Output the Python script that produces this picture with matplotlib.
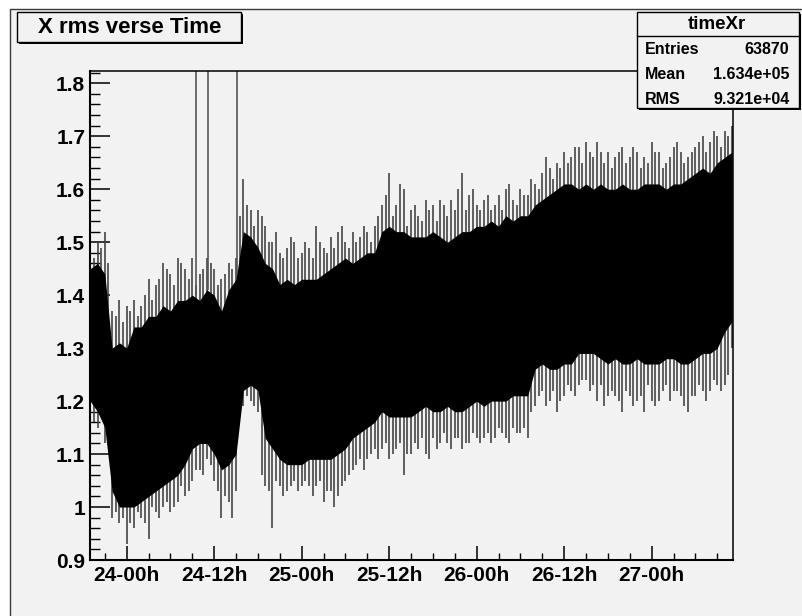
import numpy as np
import matplotlib
matplotlib.use("Agg")
import matplotlib.pyplot as plt
from matplotlib.patches import Rectangle
from matplotlib.ticker import MultipleLocator, FixedLocator, FixedFormatter

# ---------------- data (hours relative to 24-00h) ----------------
hours = list(range(-5, 84))
spike_hi = [1.49, 1.50, 1.52, 1.37, 1.39, 1.38, 1.39, 1.38, 1.43, 1.42,
            1.46, 1.44, 1.47, 1.45, 1.47, 1.44, 1.47, 1.45, 1.43, 1.46,
            1.47, 1.62, 1.56, 1.56, 1.53, 1.50, 1.48, 1.49, 1.50, 1.48,
            1.49, 1.53, 1.49, 1.51, 1.52, 1.50, 1.52, 1.51, 1.52, 1.53,
            1.57, 1.63, 1.57, 1.60, 1.56, 1.55, 1.58, 1.57, 1.58, 1.55,
            1.56, 1.63, 1.59, 1.57, 1.58, 1.56, 1.59, 1.60, 1.58, 1.60,
            1.59, 1.61, 1.63, 1.64, 1.65, 1.67, 1.66, 1.68, 1.69, 1.66,
            1.67, 1.67, 1.66, 1.68, 1.66, 1.67, 1.66, 1.69, 1.67, 1.65,
            1.68, 1.67, 1.66, 1.68, 1.70, 1.69, 1.70, 1.71, 1.72]
spike_lo = [1.17, 1.15, 1.12, 0.98, 0.97, 0.93, 0.96, 0.98, 0.94, 0.99,
            1.00, 0.99, 1.01, 1.02, 1.05, 1.07, 1.09, 1.05, 0.98, 1.01,
            1.03, 1.19, 1.20, 1.18, 1.04, 0.96, 1.04, 1.03, 1.05, 1.04,
            1.04, 1.04, 1.01, 1.03, 1.02, 1.05, 1.07, 1.09, 1.09, 1.11,
            1.11, 1.09, 1.11, 1.06, 1.10, 1.11, 1.10, 1.13, 1.12, 1.12,
            1.13, 1.11, 1.12, 1.13, 1.13, 1.12, 1.15, 1.13, 1.15, 1.14,
            1.13, 1.19, 1.22, 1.20, 1.18, 1.21, 1.22, 1.23, 1.24, 1.23,
            1.23, 1.21, 1.21, 1.18, 1.21, 1.20, 1.18, 1.20, 1.20, 1.23,
            1.22, 1.21, 1.18, 1.21, 1.22, 1.22, 1.23, 1.23, 1.30]
core_top = [1.45, 1.46, 1.44, 1.30, 1.31, 1.30, 1.34, 1.34, 1.36, 1.36,
            1.38, 1.37, 1.39, 1.39, 1.40, 1.39, 1.41, 1.40, 1.37, 1.41,
            1.43, 1.52, 1.51, 1.49, 1.46, 1.45, 1.42, 1.43, 1.42, 1.43,
            1.43, 1.43, 1.44, 1.45, 1.46, 1.47, 1.46, 1.47, 1.48, 1.48,
            1.52, 1.53, 1.52, 1.52, 1.51, 1.51, 1.51, 1.52, 1.51, 1.50,
            1.51, 1.52, 1.52, 1.53, 1.53, 1.54, 1.53, 1.55, 1.54, 1.55,
            1.55, 1.57, 1.58, 1.59, 1.60, 1.61, 1.61, 1.60, 1.61, 1.60,
            1.61, 1.60, 1.60, 1.61, 1.60, 1.60, 1.61, 1.61, 1.61, 1.60,
            1.61, 1.61, 1.62, 1.63, 1.64, 1.63, 1.65, 1.66, 1.67]
core_bot = [1.20, 1.18, 1.15, 1.03, 1.00, 1.00, 1.00, 1.01, 1.02, 1.03,
            1.04, 1.05, 1.06, 1.08, 1.11, 1.12, 1.12, 1.10, 1.07, 1.08,
            1.10, 1.22, 1.23, 1.22, 1.13, 1.11, 1.09, 1.08, 1.08, 1.08,
            1.09, 1.09, 1.09, 1.09, 1.10, 1.11, 1.13, 1.14, 1.15, 1.16,
            1.18, 1.17, 1.17, 1.17, 1.17, 1.18, 1.19, 1.18, 1.18, 1.19,
            1.18, 1.18, 1.19, 1.20, 1.19, 1.20, 1.20, 1.20, 1.21, 1.21,
            1.21, 1.26, 1.27, 1.26, 1.26, 1.27, 1.27, 1.29, 1.29, 1.29,
            1.28, 1.27, 1.28, 1.27, 1.27, 1.28, 1.27, 1.27, 1.27, 1.28,
            1.28, 1.27, 1.27, 1.28, 1.29, 1.29, 1.30, 1.33, 1.35]

# spikes at the half hours in between
half_hours = [h + 0.5 for h in range(-5, 83)]
half_hi = [1.47, 1.49, 1.46, 1.36, 1.35, 1.37, 1.36, 1.40, 1.39, 1.43,
           1.45, 1.42, 1.46, 1.43, 1.42, 1.45, 1.46, 1.42, 1.44, 1.45,
           1.55, 1.57, 1.53, 1.55, 1.50, 1.52, 1.47, 1.51, 1.47, 1.50,
           1.47, 1.50, 1.48, 1.49, 1.53, 1.49, 1.50, 1.53, 1.50, 1.55,
           1.59, 1.55, 1.61, 1.53, 1.57, 1.54, 1.56, 1.54, 1.57, 1.58,
           1.60, 1.56, 1.60, 1.56, 1.59, 1.57, 1.56, 1.61, 1.57, 1.59,
           1.62, 1.60, 1.66, 1.62, 1.64, 1.65, 1.68, 1.65, 1.67, 1.69,
           1.65, 1.64, 1.67, 1.65, 1.68, 1.64, 1.65, 1.67, 1.64, 1.66,
           1.69, 1.65, 1.67, 1.69, 1.67, 1.71, 1.68, 1.70]
half_lo = [1.16, 1.18, 1.13, 0.99, 0.98, 0.97, 0.99, 0.97, 1.00, 0.98,
           1.01, 1.00, 1.04, 1.03, 1.07, 1.06, 1.08, 1.03, 1.02, 0.98,
           1.20, 1.21, 1.19, 1.06, 1.03, 1.05, 1.02, 1.04, 1.03, 1.05,
           1.02, 1.05, 1.03, 1.00, 1.04, 1.06, 1.08, 1.07, 1.10, 1.09,
           1.12, 1.10, 1.12, 1.10, 1.12, 1.13, 1.09, 1.11, 1.14, 1.11,
           1.13, 1.12, 1.14, 1.12, 1.14, 1.13, 1.14, 1.12, 1.14, 1.15,
           1.18, 1.21, 1.19, 1.22, 1.20, 1.23, 1.21, 1.24, 1.22, 1.20,
           1.19, 1.22, 1.20, 1.22, 1.19, 1.21, 1.23, 1.19, 1.22, 1.20,
           1.22, 1.19, 1.21, 1.23, 1.20, 1.24, 1.22, 1.25]

tall_spike_hours = [9.5, 11.1, 15.1]
tall_spike_base = [1.40, 1.41, 1.43]

y_ticks = [0.9, 1.0, 1.1, 1.2, 1.3, 1.4, 1.5, 1.6, 1.7, 1.8]
y_tick_labels = ["0.9", "1", "1.1", "1.2", "1.3", "1.4", "1.5", "1.6", "1.7", "1.8"]
x_tick_hours = [0, 12, 24, 36, 48, 60, 72]
x_tick_labels = ["24-00h", "24-12h", "25-00h", "25-12h", "26-00h", "26-12h", "27-00h"]

title_text = "X rms verse Time"
stats_name = "timeXr"
stats_keys = ["Entries", "Mean", "RMS"]
stats_vals = ["63870", "1.634e+05", "9.321e+04"]

# ---------------- figure ----------------
W, H = 803, 616
BG = "#f2f2f2"
FONT = "Liberation Sans"
fig = plt.figure(figsize=(W / 100, H / 100), dpi=100, facecolor="white")


def fx(x):
    return x / W


def fy(y):
    return 1 - y / H


# canvas background with border
fig.patches.append(Rectangle((fx(10), fy(650)), fx(900), 641 / H, transform=fig.transFigure,
                             facecolor=BG, edgecolor="#3a3a3a", lw=1.0, zorder=-10))

ax = fig.add_axes([fx(90), fy(560), fx(733.3 - 90), (560 - 70.7) / H])
ax.set_zorder(1)
ax.set_facecolor(BG)
ax.set_xlim(-5.03, 83.2)
ax.set_ylim(0.9, 1.8238)

SPK = "#3e3e3e"
ax.vlines(hours, spike_lo, spike_hi, colors=SPK, lw=1.15, zorder=2)
ax.vlines(half_hours, half_lo, half_hi, colors=SPK, lw=1.15, zorder=2)
ax.fill_between(hours, core_bot, core_top, color="black", lw=0, zorder=3)
ax.vlines(tall_spike_hours, tall_spike_base, 2.0, colors="#555555", lw=1.2, zorder=2)

for s in ax.spines.values():
    s.set_color("black")
    s.set_linewidth(1.1)
ax.spines["left"].set_linewidth(1.5)
ax.spines["bottom"].set_linewidth(1.5)

ax.yaxis.set_major_locator(FixedLocator(y_ticks))
ax.yaxis.set_major_formatter(FixedFormatter(y_tick_labels))
ax.yaxis.set_minor_locator(MultipleLocator(0.02))
ax.xaxis.set_major_locator(FixedLocator(x_tick_hours))
ax.xaxis.set_major_formatter(FixedFormatter(x_tick_labels))
ax.xaxis.set_minor_locator(MultipleLocator(3))

ax.tick_params(axis="y", which="major", direction="in", length=14.4, width=1.1,
               pad=3.5, left=True, right=False)
ax.tick_params(axis="y", which="minor", direction="in", length=7.2, width=1.0,
               left=True, right=False)
ax.tick_params(axis="x", which="major", direction="in", length=10, width=1.1,
               pad=4, bottom=True, top=False)
ax.tick_params(axis="x", which="minor", direction="in", length=5, width=1.0,
               bottom=True, top=False)
for lab in ax.get_xticklabels() + ax.get_yticklabels():
    lab.set_fontfamily(FONT)
    lab.set_fontweight("bold")
    lab.set_fontsize(15)


def box(x0, y0, x1, y1, shadow=2):
    fig.patches.append(Rectangle((fx(x0 + shadow), fy(y1 + shadow)), fx(x1 - x0), (y1 - y0) / H,
                                 transform=fig.transFigure, facecolor="black",
                                 edgecolor="black", lw=0, zorder=5))
    fig.patches.append(Rectangle((fx(x0), fy(y1)), fx(x1 - x0), (y1 - y0) / H,
                                 transform=fig.transFigure, facecolor=BG,
                                 edgecolor="black", lw=1.0, zorder=6))


# title box
box(17, 12, 241.5, 41.5)
fig.text(fx(129.5), fy(27.5), title_text, ha="center", va="center", fontsize=16,
         fontweight="bold", family=FONT, zorder=7)

# stats box
box(636.7, 12, 799, 108)
fig.lines.append(plt.Line2D([fx(636.7), fx(799)], [fy(36), fy(36)], transform=fig.transFigure,
                            color="black", lw=1.0, zorder=7))
fig.text(fx(717), fy(24.5), stats_name, ha="center", va="center", fontsize=13.5,
         fontweight="bold", family=FONT, zorder=7)
for i, (k, v) in enumerate(zip(stats_keys, stats_vals)):
    yy = 50 + 24.5 * i
    fig.text(fx(645), fy(yy), k, ha="left", va="center", fontsize=11.5,
             fontweight="bold", family=FONT, zorder=7)
    fig.text(fx(789.5), fy(yy), v, ha="right", va="center", fontsize=11.5,
             fontweight="bold", family=FONT, zorder=7)

fig.savefig("out.png", dpi=100, facecolor="white")
